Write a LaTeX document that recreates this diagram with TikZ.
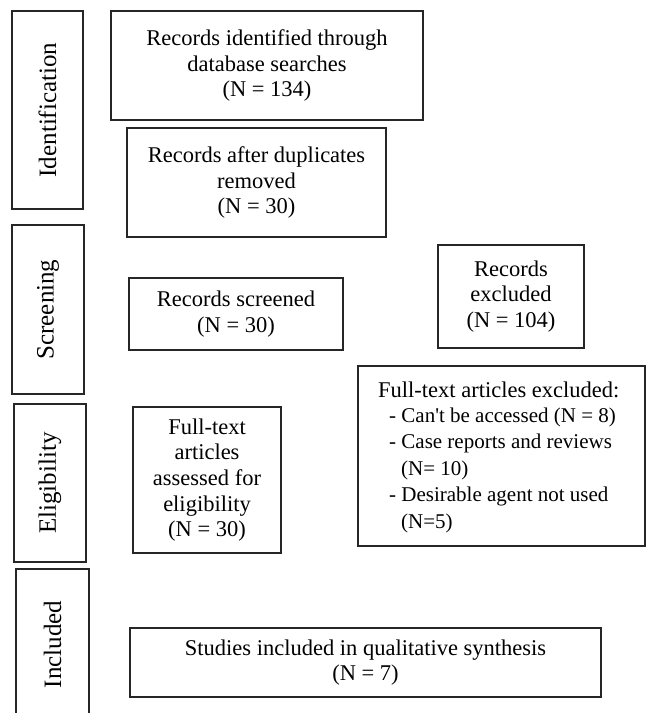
\documentclass[tikz,border=0pt]{standalone}
\usepackage{fontspec}
\setmainfont{Liberation Serif}[Ligatures=TeXOff]
\newcommand\mainfs{\fontsize{22.5}{25.7}\selectfont}
\newcommand\itemfs{\fontsize{21}{26.5}\selectfont}
\tikzset{
  box/.style={draw=black!85, line width=1.2pt, inner sep=0pt, align=center, font=\mainfs},
  stage/.style={box, rotate=90, font=\fontsize{25}{27}\selectfont},
  plaintext/.style={inner sep=0pt, font=\itemfs},
}
\begin{document}
\begin{tikzpicture}[x=1pt, y=-1pt]
\useasboundingbox (0,0) rectangle (646,713);
% stage labels
\node[stage, minimum width=198, minimum height=71] (ident) at (47.5,110) {Identification};
\node[stage, minimum width=169, minimum height=72] (screen) at (48,309.5) {Screening};
\node[stage, minimum width=158, minimum height=72] (elig) at (50,483) {Eligibility};
\node[stage, minimum width=151, minimum height=73] (incl) at (52.5,644.5) {Included};
% flow boxes
\node[box, minimum width=312, minimum height=109] (found) at (267,65.5)
  {Records identified through\\ database searches\\ (N = 134)};
\node[box, minimum width=259, minimum height=109] (dedup) at (256.5,182.5)
  {Records after duplicates\\ removed\\ (N = 30)};
\node[box, minimum width=214, minimum height=72] (screened) at (236,314)
  {Records screened\\ (N = 30)};
\node[box, minimum width=146, minimum height=103] (excl) at (511,296.5)
  {Records\\ excluded\\ (N = 104)};
\node[box, minimum width=148, minimum height=146] (assess) at (207,480)
  {Full-text\\ articles\\ assessed for\\ eligibility\\ (N = 30)};
\node[box, minimum width=287, minimum height=180] (ftexcl) at (501.5,456) {};
\node[plaintext, anchor=base west] (ftexcltext) at (378,397)
  {\begin{tabular}[t]{@{}l@{}}
   {\fontsize{22.5}{26.5}\selectfont Full-text articles excluded:}\\[-1.5pt]
   \hspace*{11pt}- Can't be accessed (N = 8)\\
   \hspace*{11pt}- Case reports and reviews\\
   \hspace*{23pt}(N= 10)\\
   \hspace*{11pt}- Desirable agent not used\\
   \hspace*{23pt}(N=5)
   \end{tabular}};
\node[box, minimum width=471, minimum height=69] (studies) at (365.5,662.5)
  {Studies included in qualitative synthesis\\ (N = 7)};
\end{tikzpicture}
\end{document}
